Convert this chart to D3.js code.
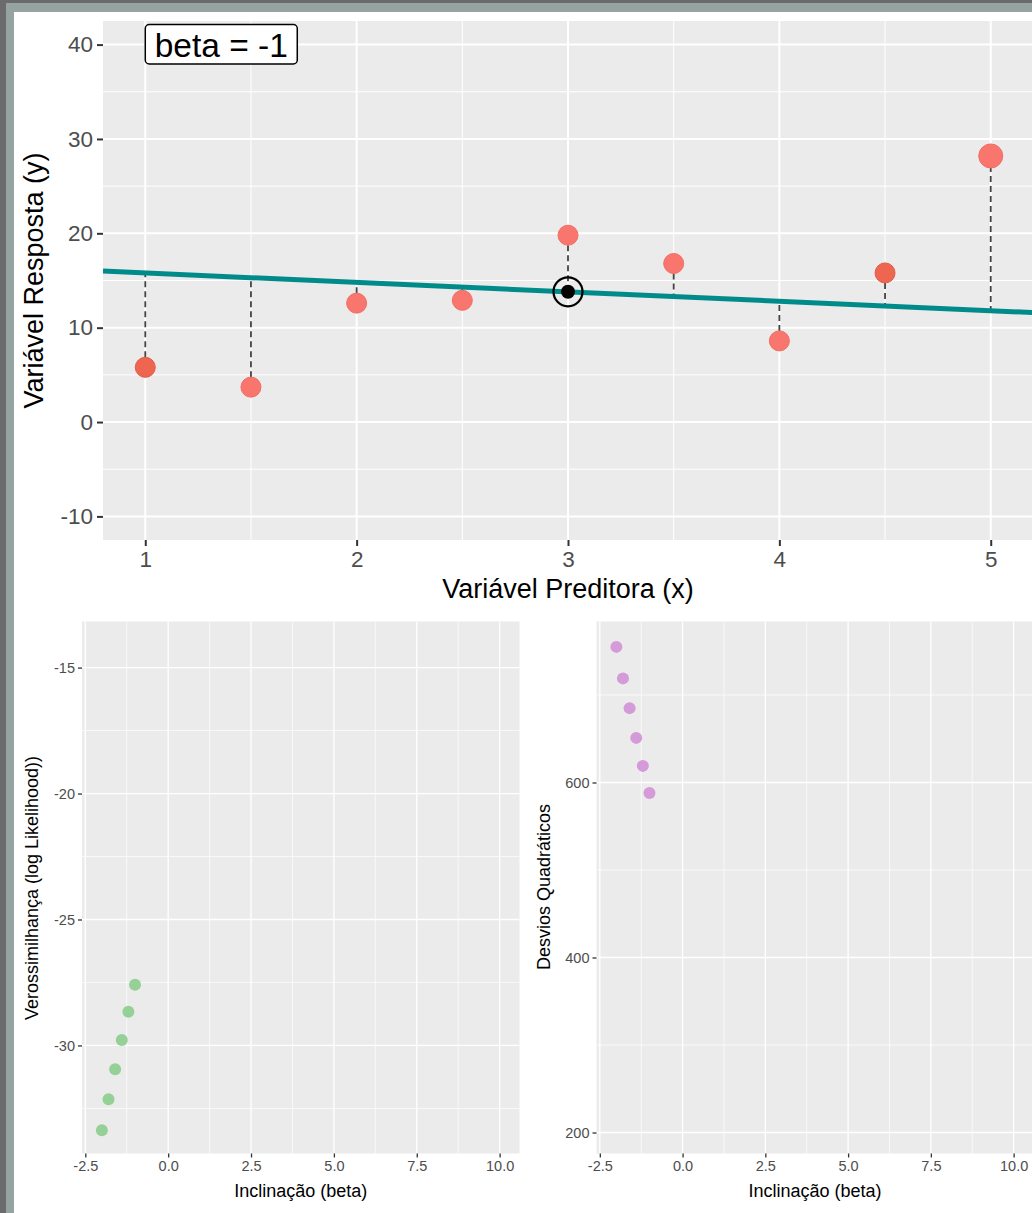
<!DOCTYPE html>
<html>
<head>
<meta charset="utf-8">
<script src="https://cdn.jsdelivr.net/npm/d3@7"></script>
<style>
  html, body { margin: 0; padding: 0; background: #fff; }
  svg { display: block; font-family: "Liberation Sans", Arial, sans-serif; }
</style>
</head>
<body>
<svg id="chart" width="1032" height="1213"></svg>
<script>
// ---- data ----
const xValues = [1, 1.5, 2, 2.5, 3, 3.5, 4, 4.5, 5];
const yValues = [5.8, 3.7, 12.6, 12.9, 19.8, 16.8, 8.6, 15.8, 28.2];
const currentBeta = -1;
const betaLabel = "beta = -1";

const betaValues = [-2, -1.8, -1.6, -1.4, -1.2, -1.0];
const logLikValues = [-33.37, -32.14, -30.95, -29.78, -28.66, -27.59];
const sqDevValues = [755, 719, 685, 651, 619, 588];

const topXTicks = [1, 2, 3, 4, 5];
const topYTicks = [-10, 0, 10, 20, 30, 40];
const betaTicks = [-2.5, 0, 2.5, 5, 7.5, 10];
const logLikTicks = [-30, -25, -20, -15];
const sqDevTicks = [200, 400, 600];

const svg = d3.select("#chart");
const hy = f => (d => f(d).replace("\u2212", "-"));

// ---- frame ----
svg.append("rect").attr("x", 0).attr("y", 0).attr("width", 1032).attr("height", 1213).attr("fill", "#6b6b6b");
svg.append("rect").attr("x", 6).attr("y", 3).attr("width", 1026).attr("height", 1210).attr("fill", "#95a4a1");
svg.append("rect").attr("x", 14).attr("y", 12).attr("width", 1018).attr("height", 1201).attr("fill", "#ffffff");

function panel(opts) {
  const { id, x, y, xTicks, yTicks, xMinor, yMinor, majorW, minorW, tickLen, tickFont, tickW } = opts;
  const [x0, x1] = x.range();
  const [yb, yt] = y.range();
  const g = svg.append("g");
  g.append("clipPath").attr("id", id).append("rect")
    .attr("x", x0).attr("y", yt).attr("width", x1 - x0).attr("height", yb - yt);
  g.append("rect").attr("x", x0).attr("y", yt).attr("width", x1 - x0).attr("height", yb - yt).attr("fill", "#ebebeb");
  const grid = g.append("g").attr("clip-path", `url(#${id})`);
  grid.selectAll(".mx").data(xMinor).join("line")
    .attr("x1", d => x(d)).attr("x2", d => x(d)).attr("y1", yt).attr("y2", yb)
    .attr("stroke", "#fff").attr("stroke-width", minorW);
  grid.selectAll(".my").data(yMinor).join("line")
    .attr("y1", d => y(d)).attr("y2", d => y(d)).attr("x1", x0).attr("x2", x1)
    .attr("stroke", "#fff").attr("stroke-width", minorW);
  grid.selectAll(".Mx").data(xTicks).join("line")
    .attr("x1", d => x(d)).attr("x2", d => x(d)).attr("y1", yt).attr("y2", yb)
    .attr("stroke", "#fff").attr("stroke-width", majorW);
  grid.selectAll(".My").data(yTicks).join("line")
    .attr("y1", d => y(d)).attr("y2", d => y(d)).attr("x1", x0).attr("x2", x1)
    .attr("stroke", "#fff").attr("stroke-width", majorW);

  const ax = g.append("g").attr("transform", `translate(0,${yb})`)
    .call(d3.axisBottom(x).tickValues(xTicks).tickSize(tickLen).tickPadding(opts.xPad).tickFormat(hy(opts.xFmt)));
  const ay = g.append("g").attr("transform", `translate(${x0},0)`)
    .call(d3.axisLeft(y).tickValues(yTicks).tickSize(tickLen).tickPadding(opts.yPad).tickFormat(hy(opts.yFmt)));
  [ax, ay].forEach(a => {
    a.select(".domain").remove();
    a.selectAll("line").attr("stroke", "#333").attr("stroke-width", tickW);
    a.selectAll("text").attr("fill", "#4d4d4d").attr("font-size", tickFont)
      .attr("font-family", "'Liberation Sans', Arial, sans-serif");
  });
  return grid;
}

// ---- top panel ----
const xTop = d3.scaleLinear().domain([0.8, 5.2]).range([103, 1033]);
const yTop = d3.scaleLinear().domain([-12.5, 42.5]).range([540, 21]);
const gTop = panel({
  id: "clipTop", x: xTop, y: yTop, xTicks: topXTicks, yTicks: topYTicks,
  xMinor: [1.5, 2.5, 3.5, 4.5], yMinor: [-5, 5, 15, 25, 35],
  majorW: 2, minorW: 1, tickLen: 6, tickFont: 22.5, tickW: 2,
  xPad: 5, yPad: 4, xFmt: d3.format("d"), yFmt: d3.format("d")
});

const meanX = d3.mean(xValues), meanY = d3.mean(yValues);
const fitted = x => meanY + currentBeta * (x - meanX);
const pts = xValues.map((x, i) => ({ x, y: yValues[i] }));

// residual segments
gTop.selectAll(".seg").data(pts).join("line")
  .attr("x1", d => xTop(d.x)).attr("x2", d => xTop(d.x))
  .attr("y1", d => yTop(d.y)).attr("y2", d => yTop(fitted(d.x)))
  .attr("stroke", "#444").attr("stroke-width", 1.8).attr("stroke-dasharray", "6,4");

// regression line
const lineDom = xTop.domain();
gTop.append("line")
  .attr("x1", xTop(lineDom[0])).attr("y1", yTop(fitted(lineDom[0])))
  .attr("x2", xTop(lineDom[1])).attr("y2", yTop(fitted(lineDom[1])))
  .attr("stroke", "#008b8b").attr("stroke-width", 5);

// points
const maxRes = d3.max(pts, d => Math.abs(d.y - fitted(d.x)));
gTop.selectAll(".pt").data(pts).join("circle")
  .attr("cx", d => xTop(d.x)).attr("cy", d => yTop(d.y))
  .attr("r", d => Math.abs(d.y - fitted(d.x)) === maxRes ? 12 : 10)
  .attr("fill", (d, i) => (i === 0 || i === 7) ? "#ef6650" : "#f8766d")
  .attr("stroke", (d, i) => (i === 0 || i === 7) ? "#e55a44" : "#f26e62").attr("stroke-width", 1);

// center target
gTop.append("circle").attr("cx", xTop(meanX)).attr("cy", yTop(meanY)).attr("r", 14.5)
  .attr("fill", "none").attr("stroke", "#000").attr("stroke-width", 2.2);
gTop.append("circle").attr("cx", xTop(meanX)).attr("cy", yTop(meanY)).attr("r", 7).attr("fill", "#000");

// beta label
const lblG = svg.append("g");
lblG.append("rect").attr("x", xTop(1)).attr("y", 24.5).attr("width", 152).attr("height", 39.5)
  .attr("rx", 4).attr("fill", "#fff").attr("stroke", "#000").attr("stroke-width", 1.5);
lblG.append("text").attr("x", xTop(1) + 76).attr("y", 57).attr("text-anchor", "middle")
  .attr("font-size", 33.5).attr("fill", "#000").text(betaLabel);

// top titles
svg.append("text").attr("x", 568).attr("y", 598).attr("text-anchor", "middle")
  .attr("font-size", 27).attr("fill", "#000").text("Variável Preditora (x)");
svg.append("text").attr("transform", "translate(43,280.5) rotate(-90)").attr("text-anchor", "middle")
  .attr("font-size", 27).attr("fill", "#000").text("Variável Resposta (y)");

// ---- bottom-left panel ----
const xBL = d3.scaleLinear().domain([-2.6, 10.6]).range([82, 519.5]);
const yBL = d3.scaleLinear().domain([-34.29, -13.17]).range([1153.5, 621.5]);
const gBL = panel({
  id: "clipBL", x: xBL, y: yBL, xTicks: betaTicks, yTicks: logLikTicks,
  xMinor: [-1.25, 1.25, 3.75, 6.25, 8.75], yMinor: [-32.5, -27.5, -22.5, -17.5],
  majorW: 1.3, minorW: 0.7, tickLen: 4, tickFont: 14.5, tickW: 1.3,
  xPad: 3, yPad: 3, xFmt: d3.format(".1f"), yFmt: d3.format("d")
});
gBL.selectAll(".ll").data(betaValues).join("circle")
  .attr("cx", d => xBL(d)).attr("cy", (d, i) => yBL(logLikValues[i]))
  .attr("r", 6).attr("fill", "#95d096");
svg.append("text").attr("x", 300.75).attr("y", 1197).attr("text-anchor", "middle")
  .attr("font-size", 18).attr("fill", "#000").text("Inclinação (beta)");
svg.append("text").attr("transform", "translate(38,888) rotate(-90)").attr("text-anchor", "middle")
  .attr("font-size", 18).attr("fill", "#000").text("Verossimilhança (log Likelihood))");

// ---- bottom-right panel ----
const xBR = d3.scaleLinear().domain([-2.6, 10.6]).range([596.5, 1033.5]);
const yBR = d3.scaleLinear().domain([176, 784]).range([1153.5, 621.5]);
const gBR = panel({
  id: "clipBR", x: xBR, y: yBR, xTicks: betaTicks, yTicks: sqDevTicks,
  xMinor: [-1.25, 1.25, 3.75, 6.25, 8.75], yMinor: [300, 500, 700],
  majorW: 1.3, minorW: 0.7, tickLen: 4, tickFont: 14.5, tickW: 1.3,
  xPad: 3, yPad: 3, xFmt: d3.format(".1f"), yFmt: d3.format("d")
});
gBR.selectAll(".sq").data(betaValues).join("circle")
  .attr("cx", d => xBR(d)).attr("cy", (d, i) => yBR(sqDevValues[i]))
  .attr("r", 6).attr("fill", "#d59ad8");
svg.append("text").attr("x", 815).attr("y", 1197).attr("text-anchor", "middle")
  .attr("font-size", 18).attr("fill", "#000").text("Inclinação (beta)");
svg.append("text").attr("transform", "translate(550,887) rotate(-90)").attr("text-anchor", "middle")
  .attr("font-size", 18).attr("fill", "#000").text("Desvios Quadráticos");
</script>
</body>
</html>
